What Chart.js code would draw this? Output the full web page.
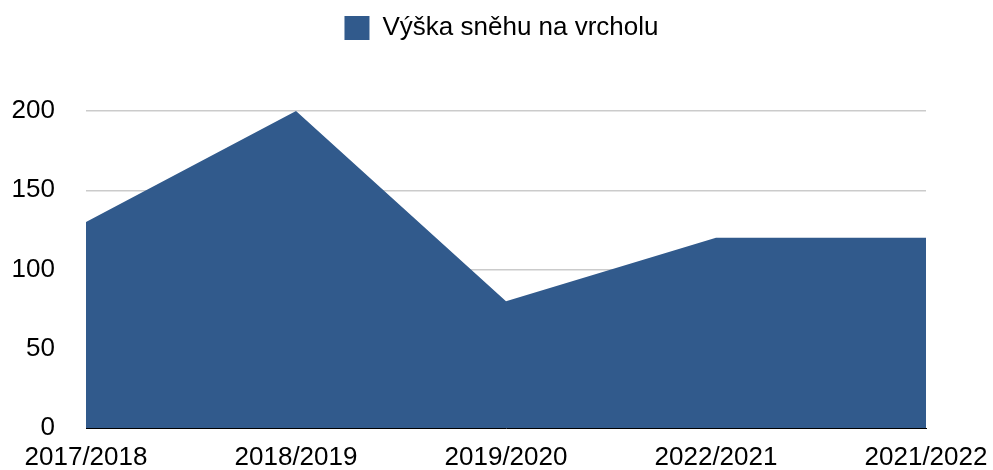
<!DOCTYPE html>
<html>
<head>
<meta charset="utf-8">
<script src="https://cdn.jsdelivr.net/npm/chart.js@4"></script>
<style>
  html, body { margin: 0; padding: 0; background: #fff; }
  #wrap { width: 993px; height: 470px; }
</style>
</head>
<body>
<div id="wrap"><canvas id="chart"></canvas></div>
<script>
// Snow depth per season
const seasons = ['2017/2018', '2018/2019', '2019/2020', '2022/2021', '2021/2022'];
const snowDepth = [130, 200, 80, 120, 120];
const yTicks = [0, 50, 100, 150, 200];

const fillColor = '#315a8c';
const fontFamily = '"Liberation Sans", Arial, Helvetica, sans-serif';

// push the plot down below the legend
const legendGap = {
    id: 'legendGap',
    beforeInit(chart) {
        const fit = chart.legend.fit;
        chart.legend.fit = function () {
            fit.bind(chart.legend)();
            this.height += 60;
        };
    }
};

const ctx = document.getElementById('chart').getContext('2d');

new Chart(ctx, {
    type: 'line',
    data: {
        labels: seasons,
        datasets: [{
            label: 'Výška sněhu na vrcholu',
            data: snowDepth,
            backgroundColor: fillColor,
            borderColor: fillColor,
            borderWidth: 0,
            pointRadius: 0,
            tension: 0,
            fill: 'origin'
        }]
    },
    options: {
        responsive: true,
        maintainAspectRatio: false,
        animation: false,
        layout: {
            padding: { left: 10, right: 0, top: 3, bottom: 0 }
        },
        plugins: {
            legend: {
                position: 'top',
                labels: {
                    color: '#000',
                    font: { family: fontFamily, size: 26 },
                    boxWidth: 25,
                    boxHeight: 24,
                    padding: 12
                }
            },
            tooltip: { enabled: false }
        },
        scales: {
            x: {
                offset: false,
                afterFit: (scale) => {
                    scale.height = 42;
                    scale.paddingRight = 67;
                },
                grid: { display: false, drawTicks: false },
                border: { display: true, color: '#000', width: 1 },
                ticks: {
                    color: '#000',
                    font: { family: fontFamily, size: 26 },
                    padding: 14,
                    maxRotation: 0,
                    autoSkip: false
                }
            },
            y: {
                min: 0,
                max: 200,
                afterBuildTicks: (scale) => {
                    scale.ticks = yTicks.map(v => ({ value: v }));
                },
                afterFit: (scale) => {
                    scale.width = 76;
                    scale.paddingBottom = 0;
                },
                grid: { color: '#cbcbcb', lineWidth: 1.5, drawTicks: false },
                border: { display: false },
                ticks: {
                    color: '#000',
                    font: { family: fontFamily, size: 26 },
                    padding: 31
                }
            }
        }
    },
    plugins: [legendGap]
});
</script>
</body>
</html>
